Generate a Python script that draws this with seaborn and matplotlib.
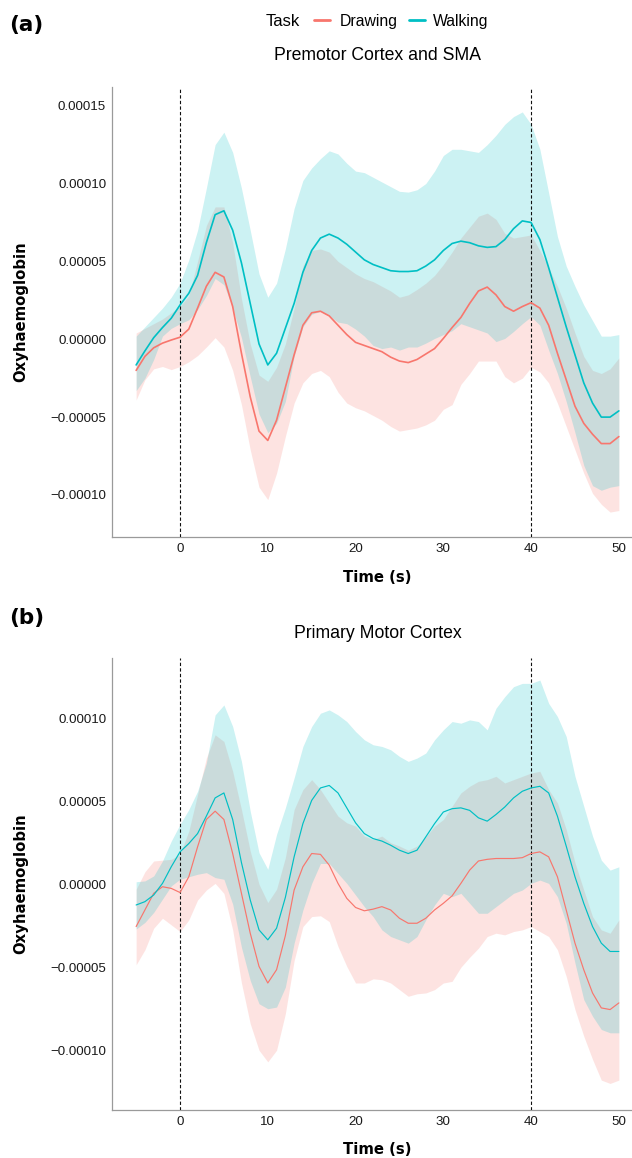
import numpy as np
import pandas as pd
import matplotlib
matplotlib.use("Agg")
import matplotlib.pyplot as plt
import seaborn as sns
from matplotlib.lines import Line2D
from matplotlib.ticker import FuncFormatter, FixedLocator

# ---------------- data (values in units of 1e-5) ----------------
SCALE = 1e-5
time_s = list(range(-5, 51))
tasks = ["Drawing", "Walking"]
panel_titles = ["Premotor Cortex and SMA", "Primary Motor Cortex"]
panel_tags = ["(a)", "(b)"]
x_ticks = [0, 10, 20, 30, 40, 50]
event_times = [0, 40]

# Panel (a) Premotor Cortex and SMA
a_walk_mean = [-1.65, -0.75, 0.1, 0.75, 1.35, 2.2, 2.95, 4.1, 6.2, 8.0, 8.25, 7.0, 4.9, 2.3, -0.3,
               -1.65, -0.9, 0.7, 2.3, 4.3, 5.7, 6.5, 6.75, 6.5, 6.1, 5.6, 5.1, 4.8, 4.6, 4.4,
               4.35, 4.35, 4.4, 4.7, 5.1, 5.7, 6.15, 6.3, 6.2, 6.0, 5.9, 5.95, 6.4, 7.1, 7.6,
               7.5, 6.4, 4.6, 2.7, 0.8, -1.0, -2.8, -4.1, -5.0, -5.0, -4.6]
a_walk_upper = [0.2, 0.8, 1.4, 2.0, 2.7, 3.6, 5.1, 7.0, 9.7, 12.5, 13.3, 12.0, 9.7, 7.0, 4.2,
                2.7, 3.6, 5.8, 8.4, 10.2, 11.0, 11.6, 12.1, 11.9, 11.3, 10.8, 10.7, 10.4, 10.1, 9.8,
                9.5, 9.45, 9.6, 10.0, 10.8, 11.8, 12.2, 12.2, 12.1, 12.0, 12.5, 13.1, 13.8, 14.3, 14.6,
                13.8, 12.2, 9.4, 6.6, 4.7, 3.4, 2.2, 1.2, 0.2, 0.2, 0.3]
a_walk_lower = [-3.3, -2.5, -1.3, 0.2, 0.7, 1.0, 1.25, 1.9, 2.8, 3.9, 3.5, 2.0, 0.1, -2.4, -4.8,
                -6.0, -5.4, -4.0, -1.1, 0.8, 1.6, 1.8, 1.5, 1.1, 1.0, 0.65, 0.2, -0.4, -0.6, -0.5,
                -0.7, -0.5, -0.5, -0.25, 0.05, 0.3, 0.55, 1.0, 0.8, 0.6, 0.4, -0.15, 0.05, 0.5, 1.0,
                1.45, 0.9, -0.7, -2.2, -4.0, -6.0, -8.1, -9.4, -9.7, -9.5, -9.4]
a_draw_mean = [-2.0, -1.1, -0.55, -0.25, -0.05, 0.13, 0.65, 2.0, 3.4, 4.3, 4.0, 2.1, -0.9, -3.7, -5.9,
               -6.5, -5.2, -3.1, -1.0, 0.9, 1.7, 1.8, 1.5, 0.9, 0.3, -0.2, -0.4, -0.6, -0.8, -1.15,
               -1.4, -1.5, -1.3, -0.95, -0.6, 0.05, 0.75, 1.4, 2.3, 3.1, 3.35, 2.85, 2.1, 1.8, 2.1,
               2.35, 2.0, 0.9, -0.9, -2.6, -4.3, -5.4, -6.1, -6.7, -6.7, -6.25]
a_draw_upper = [0.4, 0.7, 1.0, 1.3, 1.7, 2.1, 2.8, 5.0, 7.3, 8.5, 8.5, 6.2, 2.6, -0.3, -2.3,
                -2.7, -1.8, -0.3, 2.0, 4.7, 5.7, 5.8, 5.6, 5.0, 4.6, 4.2, 3.9, 3.7, 3.4, 3.1,
                2.7, 2.85, 3.2, 3.6, 4.1, 4.8, 5.6, 6.5, 7.2, 7.9, 8.1, 7.7, 6.8, 6.5, 6.6,
                6.7, 5.7, 4.6, 3.4, 2.0, 0.4, -1.1, -2.0, -2.2, -1.9, -1.2]
a_draw_lower = [-3.9, -2.6, -1.9, -1.75, -1.95, -1.75, -1.45, -1.05, -0.5, 0.1, -0.5, -2.0, -4.2, -7.1, -9.5,
                -10.3, -8.6, -6.25, -4.1, -2.8, -2.2, -2.0, -2.4, -3.4, -4.1, -4.4, -4.6, -4.9, -5.2, -5.6,
                -5.9, -5.8, -5.7, -5.5, -5.2, -4.5, -4.2, -2.9, -2.2, -1.4, -1.4, -1.4, -2.4, -2.8, -2.5,
                -1.8, -2.1, -2.8, -4.1, -5.6, -7.1, -8.6, -9.9, -10.6, -11.1, -11.0]

# Panel (b) Primary Motor Cortex
b_walk_mean = [-1.25, -1.05, -0.65, 0.05, 1.05, 1.95, 2.45, 3.05, 4.1, 5.2, 5.5, 3.9, 1.3, -0.95, -2.75,
               -3.35, -2.65, -0.8, 1.65, 3.65, 5.05, 5.8, 5.95, 5.5, 4.6, 3.7, 3.05, 2.75, 2.6, 2.35,
               2.05, 1.85, 2.05, 2.85, 3.65, 4.35, 4.55, 4.6, 4.45, 4.0, 3.8, 4.2, 4.65, 5.2, 5.6,
               5.8, 5.9, 5.5, 4.1, 2.3, 0.45, -1.15, -2.55, -3.55, -4.05, -4.05]
b_walk_upper = [0.15, 0.2, 0.5, 1.4, 2.6, 3.6, 4.5, 5.6, 7.3, 10.2, 10.8, 9.5, 7.4, 4.4, 1.9,
                0.9, 3.0, 4.6, 6.4, 8.3, 9.5, 10.3, 10.5, 10.2, 9.8, 9.2, 8.7, 8.4, 8.3, 8.1,
                7.7, 7.4, 7.6, 7.9, 8.7, 9.3, 9.8, 9.7, 9.9, 9.8, 9.3, 10.6, 11.3, 11.9, 12.1,
                12.1, 12.3, 10.9, 10.1, 8.9, 6.5, 4.7, 2.9, 1.45, 0.85, 1.05]
b_walk_lower = [-2.7, -2.3, -1.7, -0.9, -0.1, 0.3, 0.45, 0.6, 0.7, 0.4, 0.3, -1.2, -3.8, -5.8, -7.2,
                -7.5, -7.4, -6.2, -3.55, -1.55, 0.05, 1.25, 1.25, 0.65, 0.05, -0.65, -1.35, -1.95, -2.75, -3.15,
                -3.35, -3.55, -3.15, -2.15, -1.25, -0.55, -0.75, -0.55, -1.15, -1.75, -1.75, -1.35, -0.95, -0.55, -0.35,
                0.05, 0.25, 0.05, -0.75, -2.35, -4.75, -6.95, -7.95, -8.75, -8.95, -8.95]
b_draw_mean = [-2.55, -1.55, -0.55, -0.15, -0.25, -0.5, 0.45, 2.25, 3.9, 4.4, 3.9, 1.85, -0.55, -2.95, -4.95,
               -5.95, -5.15, -3.1, -0.35, 1.05, 1.85, 1.8, 1.15, 0.05, -0.85, -1.4, -1.6, -1.5, -1.35, -1.55,
               -2.05, -2.35, -2.35, -2.05, -1.55, -1.15, -0.7, 0.05, 0.85, 1.4, 1.5, 1.55, 1.55, 1.55, 1.6,
               1.85, 1.95, 1.65, 0.45, -1.55, -3.55, -5.15, -6.55, -7.45, -7.55, -7.15]
b_draw_upper = [-0.3, 0.75, 1.4, 1.45, 1.5, 1.8, 3.2, 5.4, 7.6, 9.0, 8.6, 6.8, 4.5, 2.0, 0.0,
                -1.1, -0.3, 1.6, 4.5, 5.7, 6.3, 5.7, 4.9, 4.1, 3.7, 3.5, 2.9, 2.7, 2.9, 2.5,
                2.3, 2.05, 2.3, 2.85, 3.5, 3.9, 4.7, 5.5, 5.9, 6.2, 6.3, 6.5, 6.1, 6.3, 6.5,
                6.7, 6.8, 5.7, 4.9, 3.3, 1.3, -0.35, -1.95, -2.75, -2.95, -2.15]
b_draw_lower = [-4.85, -3.95, -2.65, -2.05, -2.45, -2.85, -2.15, -0.95, -0.35, 0.05, -0.55, -2.75, -5.95, -8.4, -10.0,
                -10.7, -10.0, -7.8, -4.6, -2.55, -1.95, -1.9, -2.25, -3.75, -4.95, -5.95, -5.95, -5.7, -5.75, -5.95,
                -6.35, -6.75, -6.6, -6.55, -6.35, -5.95, -5.85, -5.0, -4.4, -3.85, -3.15, -2.95, -3.05, -2.85, -2.75,
                -2.55, -2.85, -3.15, -3.95, -5.55, -7.55, -9.15, -10.55, -11.8, -12.0, -11.8]

# ---------------- style ----------------
sns.set_style("white")
plt.rcParams["font.family"] = ["Liberation Sans", "DejaVu Sans"]
plt.rcParams["lines.scale_dashes"] = False
RED = "#F8766D"
TEAL = "#00BFC4"
palette = {"Drawing": RED, "Walking": TEAL}
SPINE = "#9a9a9a"

W, H = 632, 1158
fig = plt.figure(figsize=(W / 100, H / 100), dpi=100)


def fx(px):
    return px / W


def fy(py):
    return 1 - py / H


def rect(left, top, right, bottom):
    return [left / W, 1 - bottom / H, (right - left) / W, (bottom - top) / H]


panels = [
    dict(mean={"Drawing": a_draw_mean, "Walking": a_walk_mean},
         lo={"Drawing": a_draw_lower, "Walking": a_walk_lower},
         hi={"Drawing": a_draw_upper, "Walking": a_walk_upper},
         rect=rect(112, 87, 643, 537), ylim=(-12.70, 16.20), lw=1.2,
         yticks=[-10, -5, 0, 5, 10, 15], title_y=60.5, tag_y=31.3, xlab_y=581.5),
    dict(mean={"Drawing": b_draw_mean, "Walking": b_walk_mean},
         lo={"Drawing": b_draw_lower, "Walking": b_walk_lower},
         hi={"Drawing": b_draw_upper, "Walking": b_walk_upper},
         rect=rect(112, 658.3, 643, 1110), ylim=(-13.60, 13.61), lw=0.85,
         yticks=[-10, -5, 0, 5, 10], title_y=638.5, tag_y=624.3, xlab_y=1154.2),
]

fmt = FuncFormatter(lambda v, p: f"{v:.5f}".replace("-", "\u2212") if abs(v) > 1e-12 else "0.00000")

for i, pn in enumerate(panels):
    ax = fig.add_axes(pn["rect"])
    t = np.array(time_s)
    for task in tasks:
        ax.fill_between(t, np.array(pn["lo"][task]) * SCALE, np.array(pn["hi"][task]) * SCALE,
                        color=palette[task], alpha=0.2, linewidth=0)
    for ev in event_times:
        ax.axvline(ev, color="#111111", lw=0.8, ls=(0, (2.4, 1.6)), zorder=3)
    rows = []
    for task in tasks:
        for tt, v in zip(time_s, pn["mean"][task]):
            rows.append({"Time": tt, "Oxy": v * SCALE, "Task": task})
    df = pd.DataFrame(rows)
    sns.lineplot(data=df, x="Time", y="Oxy", hue="Task", hue_order=tasks, palette=palette,
                 ax=ax, legend=False, linewidth=pn["lw"], errorbar=None, zorder=4)
    ax.set_xlim(-7.75, 52.75)
    ax.set_ylim(pn["ylim"][0] * SCALE, pn["ylim"][1] * SCALE)
    ax.xaxis.set_major_locator(FixedLocator(x_ticks))
    ax.yaxis.set_major_locator(FixedLocator([v * SCALE for v in pn["yticks"]]))
    ax.yaxis.set_major_formatter(fmt)
    ax.set_xlabel("")
    ax.set_ylabel("")
    for s in ["top", "right"]:
        ax.spines[s].set_visible(False)
    for s in ["left", "bottom"]:
        ax.spines[s].set_color(SPINE)
        ax.spines[s].set_linewidth(0.9)
    ax.tick_params(axis="both", length=3.0, width=0.8, color=SPINE, labelsize=9.6,
                   labelcolor="#1a1a1a", pad=1.2)
    ax.grid(False)

    # texts
    fig.text(fx(377.5), fy(pn["title_y"]), panel_titles[i], ha="center", va="baseline",
             fontsize=12.7, color="black")
    fig.text(fx(9), fy(pn["tag_y"]), panel_tags[i], ha="left", va="baseline",
             fontsize=15.5, fontweight="bold", family=["DejaVu Sans"], color="black")
    fig.text(fx(377.5), fy(pn["xlab_y"]), "Time (s)", ha="center", va="baseline",
             fontsize=10.7, fontweight="bold", family=["DejaVu Sans"], color="black")
    top_px = (1 - (pn["rect"][1] + pn["rect"][3])) * H
    bot_px = (1 - pn["rect"][1]) * H
    fig.text(fx(20.5), fy((top_px + bot_px) / 2), "Oxyhaemoglobin", rotation=90,
             ha="center", va="center", fontsize=10.7, fontweight="bold",
             family=["DejaVu Sans"], color="black")

# legend (top, manual)
LEG_BASE = 26
LEG_LINE_Y = 19.5
fig.text(fx(266), fy(LEG_BASE), "Task", ha="left", va="baseline", fontsize=12, color="black")
fig.add_artist(Line2D([fx(314), fx(330)], [fy(LEG_LINE_Y)] * 2, color=RED, lw=2.0,
                      transform=fig.transFigure))
fig.text(fx(340), fy(LEG_BASE), "Drawing", ha="left", va="baseline", fontsize=11.3, color="black")
fig.add_artist(Line2D([fx(409), fx(425)], [fy(LEG_LINE_Y)] * 2, color=TEAL, lw=2.0,
                      transform=fig.transFigure))
fig.text(fx(433), fy(LEG_BASE), "Walking", ha="left", va="baseline", fontsize=11.3, color="black")

fig.savefig("out.png", dpi=100)
